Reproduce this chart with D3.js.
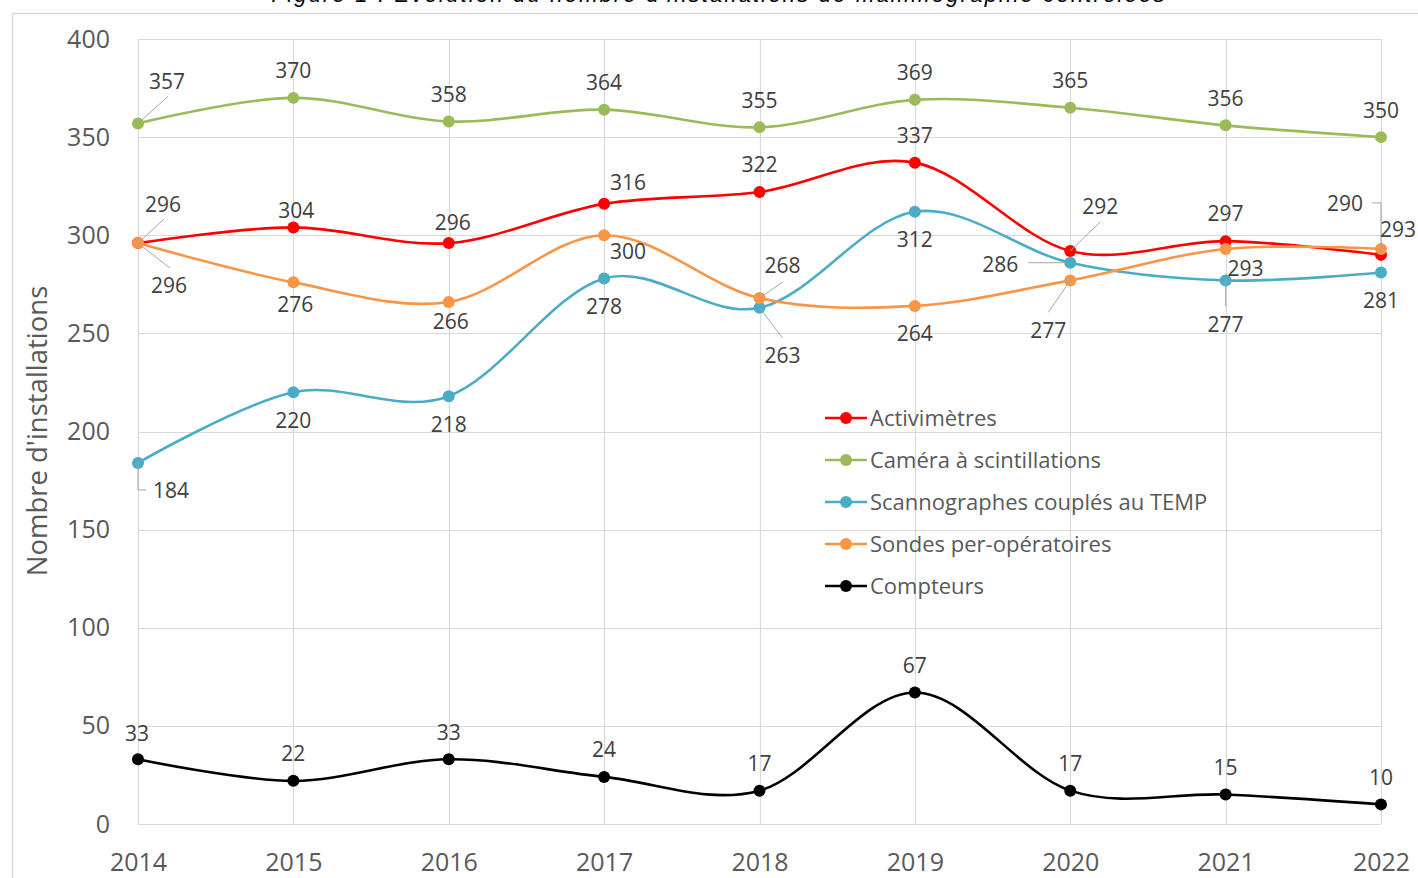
<!DOCTYPE html>
<html><head><meta charset="utf-8">
<script src="https://cdn.jsdelivr.net/npm/d3@7"></script>
<style>body{margin:0;background:#fff}svg{display:block}text{font-family:"Open Sans",sans-serif}</style>
</head><body><svg id="c" width="1418" height="878"></svg>
<script>
const years = ["2014","2015","2016","2017","2018","2019","2020","2021","2022"];
const activimetres = [296,304,296,316,322,337,292,297,290];
const cameras = [357,370,358,364,355,369,365,356,350];
const scannographes = [184,220,218,278,263,312,286,277,281];
const sondes = [296,276,266,300,268,264,277,293,293];
const compteurs = [33,22,33,24,17,67,17,15,10];
const yTicks = [0,50,100,150,200,250,300,350,400];
const seriesNames = ["Activimètres","Caméra à scintillations","Scannographes couplés au TEMP","Sondes per-opératoires","Compteurs"];
const titleText = "Figure 1 : Évolution du nombre d'installations de mammographie contrôlées";
const yTitle = "Nombre d'installations";

// label placement (offset of label centre from its point) and leader lines
const place = {
  "Activimètres": [[25,-39,[[0,0],[26,-24]]],[3,-17],[4,-21],[24,-21],[0,-28],[0,-27],[30,-45,[[0,0],[30,-29]]],[0,-28],[-36,-51,[[0,0],[0,-52],[-9,-52]]]],
  "Caméra à scintillations": [[29,-42,[[0,0],[30,-27]]],[0,-27],[0,-27],[0,-27],[0,-27],[0,-27],[0,-27],[0,-27],[0,-27]],
  "Scannographes couplés au TEMP": [[33,28,[[0,0],[0,27],[8,27]]],[0,28],[0,28],[0,28],[23,48,[[0,0],[23,30]]],[0,28],[-70,2,[[-42,0],[-4,0]]],[0,44,[[0,0],[0,26]]],[0,28]],
  "Sondes per-opératoires": [[31,42,[[0,0],[32,25]]],[2,22],[2,19],[24,16],[23,-33,[[0,0],[23,-16]]],[0,28],[-22,50,[[0,0],[-22,32]]],[20,19],[17,-20]],
  "Compteurs": [[-1,-26],[0,-27],[0,-27],[0,-27],[0,-27],[0,-27],[0,-27],[0,-27],[0,-27]]
};
const colors = ["#FF0000","#9BBB59","#4BACC6","#F79646","#000000"];
const values = [activimetres,cameras,scannographes,sondes,compteurs];

const svg = d3.select("#c");
const L=138,R=1381,T=39,B=824;
const x = d3.scalePoint().domain(years).range([L,R]);
const y = d3.scaleLinear().domain([0,400]).range([B,T]);

svg.append("rect").attr("x",12.5).attr("y",13.5).attr("width",1430).attr("height",900)
  .attr("fill","#fff").attr("stroke","#D9D9D9").attr("stroke-width",1.5);

svg.append("text").attr("x",718).attr("y",2).attr("text-anchor","middle")
  .style("font-family","'Liberation Sans',Arial,sans-serif").style("font-style","italic")
  .attr("font-size",22).attr("textLength",893).attr("fill","#000").text(titleText);

// grid
svg.append("g").selectAll("line").data(yTicks).join("line")
  .attr("x1",L).attr("x2",R).attr("y1",d=>Math.round(y(d))+0.5).attr("y2",d=>Math.round(y(d))+0.5)
  .attr("stroke","#D9D9D9").attr("stroke-width",1.2);
svg.append("g").selectAll("line").data(years).join("line")
  .attr("y1",T).attr("y2",B).attr("x1",d=>Math.round(x(d))+0.5).attr("x2",d=>Math.round(x(d))+0.5)
  .attr("stroke","#D9D9D9").attr("stroke-width",1.2);

// axes
const ya = svg.append("g").attr("transform",`translate(${L-28},0)`)
  .call(d3.axisLeft(y).tickValues(yTicks).tickSize(0).tickPadding(0));
ya.select(".domain").remove();
ya.selectAll("text").attr("font-size",25).attr("fill","#595959").style("font-family","'Open Sans',sans-serif");
const xa = svg.append("g").attr("transform",`translate(0,${B+29})`)
  .call(d3.axisBottom(x).tickSize(0).tickPadding(0));
xa.select(".domain").remove();
xa.selectAll("text").attr("font-size",25).attr("fill","#595959").style("font-family","'Open Sans',sans-serif");

svg.append("text").attr("transform",`translate(47,${431}) rotate(-90)`).attr("text-anchor","middle")
  .attr("font-size",27.5).attr("fill","#595959").text(yTitle);

const line = d3.line().x((d,i)=>x(years[i])).y(d=>y(d)).curve(d3.curveCardinal.tension(0));

seriesNames.forEach((name,si)=>{
  const vals = values[si], col = colors[si];
  const g = svg.append("g");
  g.append("path").datum(vals).attr("d",line).attr("fill","none").attr("stroke",col).attr("stroke-width",2.6);
  g.selectAll("circle").data(vals).join("circle").attr("cx",(d,i)=>x(years[i])).attr("cy",d=>y(d)).attr("r",6).attr("fill",col);
});
// leaders and labels (on top)
seriesNames.forEach((name,si)=>{
  const vals = values[si];
  const g = svg.append("g");
  vals.forEach((v,i)=>{
    const px=x(years[i]), py=y(v), p=place[name][i];
    if(p[2]) g.append("polyline").attr("points",p[2].map(q=>[px+q[0],py+q[1]].join(",")).join(" "))
      .attr("fill","none").attr("stroke","#A6A6A6").attr("stroke-width",1);
    g.append("text").attr("x",px+p[0]).attr("y",py+p[1]).attr("dy","0.36em").attr("text-anchor","middle")
      .attr("font-size",21).attr("fill","#404040").text(v);
  });
});

// legend
const lg = svg.append("g").attr("transform","translate(825,418)");
seriesNames.forEach((name,si)=>{
  const r = lg.append("g").attr("transform",`translate(0,${si*42})`);
  r.append("line").attr("x1",0).attr("x2",42).attr("stroke",colors[si]).attr("stroke-width",2.6);
  r.append("circle").attr("cx",21).attr("r",6).attr("fill",colors[si]);
  r.append("text").attr("x",45).attr("dy","0.36em").attr("font-size",22).attr("fill","#595959").text(name);
});
</script></body></html>
